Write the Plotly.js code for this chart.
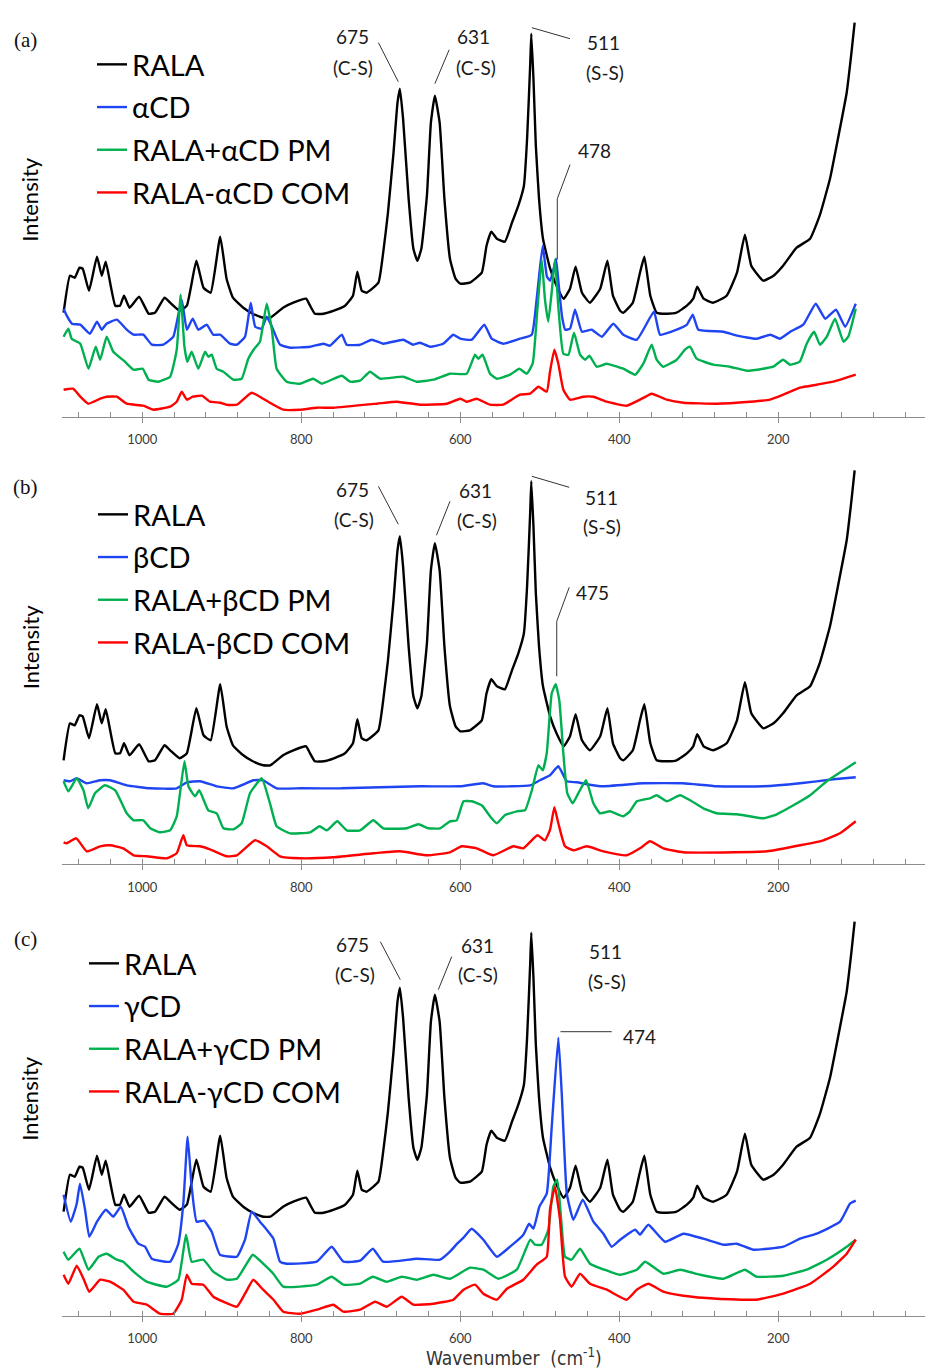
<!DOCTYPE html>
<html>
<head>
<meta charset="utf-8">
<script src="https://cdn.plot.ly/plotly-3.0.1.min.js"></script>
<style>html,body{margin:0;padding:0;background:#fff;}#chart{width:925px;height:1372px;}</style>
</head>
<body>
<div id="chart"></div>
<script>
// ---- Data: [wavenumber (cm-1), relative Raman intensity] ----
const rala = [[1099,104],[1091,141],[1085,139],[1079,149],[1075,148],[1067,126],[1057,160],[1051,141],[1046,155],[1034,111],[1028,111],[1023,121],[1016,109],[1004,120],[992,103],[984,104],[972,119],[965,114],[953,106],[944,111],[932,156],[923,129],[914,124],[902,180],[894,138],[886,119],[873,109],[861,103],[848,99],[839,99],[823,109],[810,114],[794,118],[789,111],[783,103],[772,103],[759,106],[745,111],[735,121],[729.5,145],[724,126],[718,124],[703,134],[697,164],[691,204],[684,264],[679,314],[676,328],[672,298],[665,218],[659,168],[654,156],[649,168],[642,221],[637,294],[632,321],[626,294],[620,218],[613,158],[606,138],[600,133],[588,134],[573,144],[567,171],[561,185],[554,178],[544,175],[535,194],[527,211],[520,231],[516,278],[512,354],[510.7,383],[508,338],[505,271],[501,218],[496,178],[487,148],[479,131],[470,118],[462,128],[455,150],[447,124],[437,114],[424,128],[415,156],[408,121],[399,106],[395,104],[383,114],[374,144],[368.5,160],[361,121],[353,104],[340,103],[328,104],[315,111],[307,118],[302,130],[294,118],[282,114],[265,121],[252,144],[242,182],[234,151],[219,136],[206,141],[194,151],[177,169],[160,178],[148,201],[135,238],[125,278],[114,324],[108,364],[104,394]];

const alphaCD = [[1099,108],[1095,101],[1088.5,93],[1078,92],[1066,83],[1057,95],[1051,87],[1045,93],[1032,97],[1019.6,87],[1011,82],[998.7,82],[988,72],[973.6,72],[961,80],[950.4,117],[944,87],[936.6,98],[929.6,87],[919,92],[910.7,82],[902,82],[889.7,73],[881,72],[870.8,80],[863.6,114],[858,90],[849.8,88],[843.5,100],[837,90],[826.8,72],[814,69],[789,70],[772,73],[764,71],[749,82],[743,72],[726,72],[711.5,77],[697,73],[671.7,77],[659.5,72],[650.7,74],[638,70],[621.4,73],[608.8,82],[600,78],[585.6,77],[569.8,92],[560.5,78],[545.9,73],[525,78],[510.2,82],[503.9,118],[496.4,171],[491,140],[487,136],[482,150],[479.6,158],[476,130],[472,100],[468,87],[462,88],[455.7,107],[447,85],[434.7,87],[422,80],[407.6,93],[395,82],[378,77],[356.4,105],[348.8,82],[327.8,87],[315,92],[307.6,102],[300.6,87],[269,85],[252,81],[227.2,78],[210,82],[197.9,78],[185,85],[168.6,92],[152.9,113],[141,98],[127.4,107],[116,90],[102.6,113]];

const alphaPM = [[1099,80],[1093,88],[1088.8,78],[1078,73],[1067.7,48],[1058.6,70],[1053,57],[1044.8,80],[1036.5,65],[1021.8,55],[1011,47],[999.5,48],[992,37],[980,35],[965,40],[956.7,67],[951.7,122],[947,70],[943.4,55],[937.9,65],[929.6,48],[921,65],[917,60],[912.7,62],[906.4,48],[898,45],[885.5,37],[875,38],[866.7,58],[860,67],[852,75],[843.5,113],[837,87],[831,48],[818.4,35],[801.6,33],[785,38],[774.3,33],[749,41],[738.7,35],[726.1,36],[713.6,45],[701,38],[671.7,40],[655,35],[634,37],[613,43],[592,43],[581.5,62],[577.4,58],[572,62],[562.6,43],[554,38],[537.5,42],[525.8,48],[516.5,43],[509,53],[503.1,107],[497.6,157],[493.5,117],[489.4,95],[485,125],[481,157],[476.7,110],[470.4,63],[464,62],[457,84],[449.4,62],[443,57],[437.6,61],[428.4,50],[415.8,53],[403,50],[395,48],[380,42],[369.8,53],[359.3,72],[353,57],[345,50],[327.8,57],[317.4,67],[311,70],[302.7,58],[281.7,52],[260.8,50],[240,46],[219,48],[206.4,50],[194,57],[185.3,52],[173,55],[164.3,73],[155,85],[147.6,72],[139,80],[128.7,98],[118,75],[112,80],[102.6,108]];

const alphaCOM = [[1099,27],[1087,28],[1078,20],[1068,13],[1053,18],[1045,20],[1032,20],[1019.6,13],[998.7,11],[986,7],[965,10],[956.7,15],[950.4,25],[944,17],[936.6,20],[925,21],[914.8,15],[902,14],[894,12],[881,12],[862.4,24],[848,18],[835,12],[822.6,7],[801.6,7],[780.6,9],[759.7,9],[705,13],[680,15],[650.7,12],[617,13],[600,18],[592,15],[579.4,18],[562.6,12],[546,12],[525,22],[512.3,23],[501.8,30],[491.3,25],[487.2,45],[481.7,67],[476.7,53],[470.4,27],[462,17],[445.3,20],[432.7,20],[415.8,15],[390.7,11],[374,17],[359.3,23],[340.4,17],[319.4,14],[277.5,13],[235.6,15],[210.4,17],[193.7,22],[172.7,29],[151.7,32],[130.8,35],[102.6,42]];

const betaCD = [[1099,84],[1091,83],[1082.5,86],[1070,81],[1053,84],[1040.6,84],[1019.6,79],[990,76],[956.7,76],[944,82],[927.4,83],[906.4,78],[885.5,76],[860,84],[848,84],[831,76],[800,76],[750,76],[700,77],[650,78],[600,78],[571,81],[558.5,78],[512,79],[500,84],[487.2,89],[476.7,98],[466,83],[453.6,82],[424,78],[370,81],[319.5,81],[277.5,78],[219,78],[172.7,81],[130.8,85],[102.6,87]];

const betaPM = [[1099,83],[1093,73],[1082.5,86],[1074,74],[1068,56],[1059.5,71],[1047,79],[1034,74],[1019.6,51],[1011,44],[998.7,44],[990,36],[977.7,32],[965,34],[956.7,48],[947,103],[942,78],[933.7,68],[928.3,74],[917,54],[906.4,51],[898,36],[885.5,35],[875,41],[864.5,71],[849.8,86],[839.4,61],[831,38],[814.2,31],[789,32],[777,38],[768,34],[754.7,43],[743,34],[726,34],[709.4,44],[697,36],[667.4,36],[652.8,40],[640,36],[625.5,36],[613,43],[604.5,44],[596,63],[585.7,63],[573,59],[562.6,48],[554,41],[544,49],[529,53],[518.6,54],[510,74],[501.8,99],[496.3,94],[491.3,111],[485,171],[480,180],[475.5,164],[470.4,111],[465.4,71],[458.6,61],[451.6,71],[441.9,84],[432.6,61],[424.3,51],[411.7,53],[395,48],[386.6,53],[378,63],[361.4,66],[353,69],[340.4,63],[323.6,69],[311,64],[294.3,56],[277.5,51],[252.3,50],[235.6,48],[219,46],[202,50],[181,59],[160,69],[139,83],[118,94],[102.6,102]];

const betaCOM = [[1099,22],[1095,21],[1083,26],[1070,13],[1053,18],[1040.6,19],[1024,16],[1011,9],[994.5,8],[969,6],[956.7,11],[948.4,29],[944,19],[927.4,18],[914.8,15],[893.8,8],[881,9],[858,24],[843.5,18],[826.8,8],[801.6,6],[759.7,7],[709.4,11],[675.8,13],[642,9],[613,12],[598.2,18],[579.4,16],[558.5,9],[533.4,18],[520.7,16],[503,29],[493.5,24],[487,35],[481.7,57],[476.7,41],[468.3,18],[457.8,14],[441,18],[420,13],[390.7,9],[374,16],[361.4,23],[344.6,16],[319.4,12],[256,12],[214,13],[172.7,19],[143.3,24],[122.4,31],[102.6,43]];

const gammaCD = [[1099,121],[1090,94],[1082.5,112],[1078.4,132],[1072,106],[1066.7,79],[1057,94],[1045.7,106],[1036.5,99],[1027,109],[1017.6,89],[1005,72],[996.6,69],[988,57],[965,54],[954.7,72],[948.4,112],[943,179],[937.9,129],[931.6,94],[922.4,95],[912.7,84],[902.3,61],[881,59],[870.8,76],[862.4,104],[852,94],[843.5,86],[835,77],[826.8,54],[818.4,52],[780.6,54],[761.8,69],[747,54],[726,55],[710,67],[697,54],[654.8,57],[625.5,56],[613,64],[604,72],[596,78],[585.7,87],[571,76],[554,59],[537.5,69],[520.7,81],[513.5,92],[508,87],[500.6,109],[491.3,122],[485,189],[476.7,278],[472.4,222],[466,122],[457.8,96],[446,116],[432.6,94],[420,82],[409.6,69],[399,76],[380,86],[374,81],[363.5,91],[342.5,74],[319.4,82],[294.3,77],[269,71],[252.3,72],[231.4,66],[193.7,69],[172.7,77],[151.7,82],[122.4,94],[109.8,112],[102.6,115]];

const gammaPM = [[1099,64],[1093,56],[1079,67],[1067.7,46],[1055,59],[1044.8,62],[1032,56],[1024,54],[1011,44],[994.5,34],[969.3,29],[954.7,36],[945,81],[937.9,54],[923.3,56],[910.7,44],[893.8,36],[881,37],[868.7,52],[861,61],[848,52],[835.2,42],[822.6,29],[780.6,31],[761.8,39],[747,31],[726,32],[710,39],[692.6,34],[673.6,39],[654.8,36],[634,41],[613,37],[588,48],[571,46],[552,37],[529,46],[512,76],[506,71],[497.6,71],[489.3,86],[483,129],[478,136],[472.4,89],[468.3,59],[460,56],[449.4,67],[436.9,52],[411.7,44],[399,41],[378,46],[367.5,54],[344.6,42],[323.6,46],[298.5,41],[269,37],[242,46],[227.2,39],[193.7,40],[164.3,46],[139,56],[114,69],[102.6,76]];

const gammaCOM = [[1099,41],[1093,32],[1082.5,50],[1074,37],[1066.7,24],[1053,36],[1040.6,34],[1024,26],[1011,14],[994.5,11],[977.7,2],[961,2],[950.4,16],[944,41],[937.9,32],[923.3,31],[910.7,19],[898,14],[881,9],[870.8,22],[860.4,36],[848,26],[835,16],[822.6,4],[801.6,2],[780.6,6],[759.7,11],[747,4],[726,6],[707,14],[692.6,9],[673.6,19],[659,11],[634,12],[608.8,16],[596,26],[581.5,31],[571,22],[554,16],[541.4,27],[520.7,36],[504,51],[491.3,59],[487.2,106],[481,129],[474.6,96],[468.3,39],[460,29],[449.4,42],[436.9,32],[415.8,26],[390.7,16],[378,26],[363.5,32],[344.6,24],[319.4,20],[277.5,17],[227.2,16],[193.7,22],[160,32],[130.8,49],[114,62],[102.6,76]];

const panelLetters = ['(a)', '(b)', '(c)'];
const cdNames = ['αCD', 'βCD', 'γCD'];
const markerPeaks = ['478', '475', '474'];

// ---- Styling / layout ----
const W = 925, H = 1372;
const COLORS = {rala: '#000000', cd: '#1f44f2', pm: '#00b050', com: '#ff0000'};
const FONT = 'Lato, "Open Sans", sans-serif';
const axisY = [416.7, 864.3, 1315.7];   // pixel row of each x axis line
const panelH = 400;                     // y range 0..400 mapped to 400 px
const X0 = 62;                          // left end of axis line (px)
const xRange = [1101, 15.5];

const panelSets = [
  [rala, alphaCD, alphaPM, alphaCOM],
  [rala, betaCD, betaPM, betaCOM],
  [rala, gammaCD, gammaPM, gammaCOM]
];

const traces = [];
panelSets.forEach((set, p) => {
  const names = ['RALA', cdNames[p], 'RALA+' + cdNames[p] + ' PM', 'RALA-' + cdNames[p] + ' COM'];
  const cols = [COLORS.rala, COLORS.cd, COLORS.pm, COLORS.com];
  set.forEach((series, i) => {
    traces.push({
      type: 'scatter', mode: 'lines',
      x: series.map(d => d[0]), y: series.map(d => d[1]),
      name: names[i],
      line: {color: cols[i], width: 2.4, shape: 'spline', smoothing: 0.4},
      xaxis: p === 0 ? 'x' : 'x' + (p + 1),
      yaxis: p === 0 ? 'y' : 'y' + (p + 1),
      legend: p === 0 ? 'legend' : 'legend' + (p + 1),
      legendgroup: 'p' + p + 's' + i,
      hoverinfo: 'x+y+name'
    });
  });
});

const layout = {
  width: W, height: H,
  margin: {l: 0, r: 0, t: 0, b: 0},
  paper_bgcolor: '#ffffff', plot_bgcolor: 'rgba(0,0,0,0)',
  showlegend: true,
  annotations: [], shapes: []
};

const legendLeft = [92, 93, 84];
const legendFirstRow = [65, 515, 964];

axisY.forEach((ay, p) => {
  const sfx = p === 0 ? '' : String(p + 1);
  const dom = [1 - ay / H, 1 - (ay - panelH) / H];
  const xd = [X0 / W, 1];
  layout['xaxis' + sfx] = {
    domain: xd, range: xRange, anchor: 'y' + sfx,
    showline: true, linecolor: '#8c8c8c', linewidth: 1,
    ticks: 'outside', ticklen: 5, tickcolor: '#8c8c8c', tickwidth: 1,
    tick0: 0, dtick: 200, showgrid: false, zeroline: false,
    minor: {ticks: 'inside', ticklen: 5, tickcolor: '#8c8c8c', tickwidth: 1, tick0: 0, dtick: 40, showgrid: false},
    tickfont: {family: FONT, size: 13, color: '#3a3a3a'},
    ticklabelstandoff: 6, fixedrange: true
  };
  layout['yaxis' + sfx] = {
    domain: dom, range: [0, panelH], anchor: 'x' + sfx,
    visible: false, showgrid: false, zeroline: false, fixedrange: true
  };
  layout['legend' + sfx] = {
    x: legendLeft[p] / W, y: 1 - (legendFirstRow[p] - 26) / H,
    xanchor: 'left', yanchor: 'top',
    bgcolor: 'rgba(0,0,0,0)', borderwidth: 0,
    font: {family: FONT, size: 29, color: '#000'},
    traceorder: 'grouped', tracegroupgap: 2, itemclick: false, itemdoubleclick: false
  };
  // panel letter
  layout.annotations.push({
    xref: 'paper', yref: 'paper', x: 25 / W, y: 1 - (ay - 377) / H,
    text: panelLetters[p], showarrow: false, xanchor: 'center', yanchor: 'middle',
    font: {family: '"Liberation Serif", "DejaVu Serif", serif', size: 21, color: '#111'}
  });
  // y axis label
  layout.annotations.push({
    xref: 'paper', yref: 'paper', x: 30 / W, y: 1 - (ay - 217) / H,
    text: 'Intensity', showarrow: false, textangle: -90, xanchor: 'center', yanchor: 'middle',
    font: {family: FONT, size: 22, color: '#000'}
  });
});

// Peak labels (data coordinates of each panel)
const lab = (p, x, y, text, size) => ({
  xref: p === 0 ? 'x' : 'x' + (p + 1), yref: p === 0 ? 'y' : 'y' + (p + 1),
  x: x, y: y, text: text, showarrow: false, xanchor: 'center', yanchor: 'middle',
  font: {family: FONT, size: size || 19, color: '#1a1a1a'}
});
const lead = (p, path) => ({
  type: 'path', xref: p === 0 ? 'x' : 'x' + (p + 1), yref: p === 0 ? 'y' : 'y' + (p + 1),
  path: path, line: {color: '#333', width: 1}
});

// panel (a)
layout.annotations.push(lab(0, 736, 380, '675'), lab(0, 735, 349, '(C-S)'),
  lab(0, 583, 380, '631'), lab(0, 580, 349, '(C-S)'),
  lab(0, 419.5, 374, '511'), lab(0, 418, 344, '(S-S)'),
  lab(0, 431, 266, markerPeaks[0]));
layout.shapes.push(lead(0, 'M703,374 L678,335'), lead(0, 'M614,367 L632,333'),
  lead(0, 'M510,389 L462,378'), lead(0, 'M462,252 L478,218 L478,157'));
// panel (b)
layout.annotations.push(lab(1, 736, 375, '675'), lab(1, 734, 345, '(C-S)'),
  lab(1, 581.5, 374, '631'), lab(1, 579, 344, '(C-S)'),
  lab(1, 423, 367, '511'), lab(1, 422, 338, '(S-S)'),
  lab(1, 433.5, 272, markerPeaks[1]));
layout.shapes.push(lead(1, 'M703,378 L678,340'), lead(1, 'M613,363 L630,329'),
  lead(1, 'M510,388 L463,377'), lead(1, 'M463,277 L478.7,243 L478.7,188'));
// panel (c)
layout.annotations.push(lab(2, 735, 371, '675'), lab(2, 732.5, 341, '(C-S)'),
  lab(2, 579, 370, '631'), lab(2, 577.7, 341, '(C-S)'),
  lab(2, 417, 364, '511'), lab(2, 415.7, 334, '(S-S)'),
  lab(2, 374, 279, markerPeaks[2]));
layout.shapes.push(lead(2, 'M700.6,374 L675.5,336'), lead(2, 'M610.8,359 L627.7,326'),
  lead(2, 'M474,284 L409.6,284'));

// x axis title (bottom)
layout.annotations.push({
  xref: 'paper', yref: 'paper', x: 514 / W, y: 1 - 1357 / H,
  text: 'Wavenumber  (cm<sup>-1</sup>)', showarrow: false, xanchor: 'center', yanchor: 'middle',
  font: {family: '"Liberation Sans Narrow", "DejaVu Sans Condensed", sans-serif', size: 19, color: '#333'}
});

Plotly.newPlot('chart', traces, layout, {staticPlot: true, displayModeBar: false});
</script>
</body>
</html>
